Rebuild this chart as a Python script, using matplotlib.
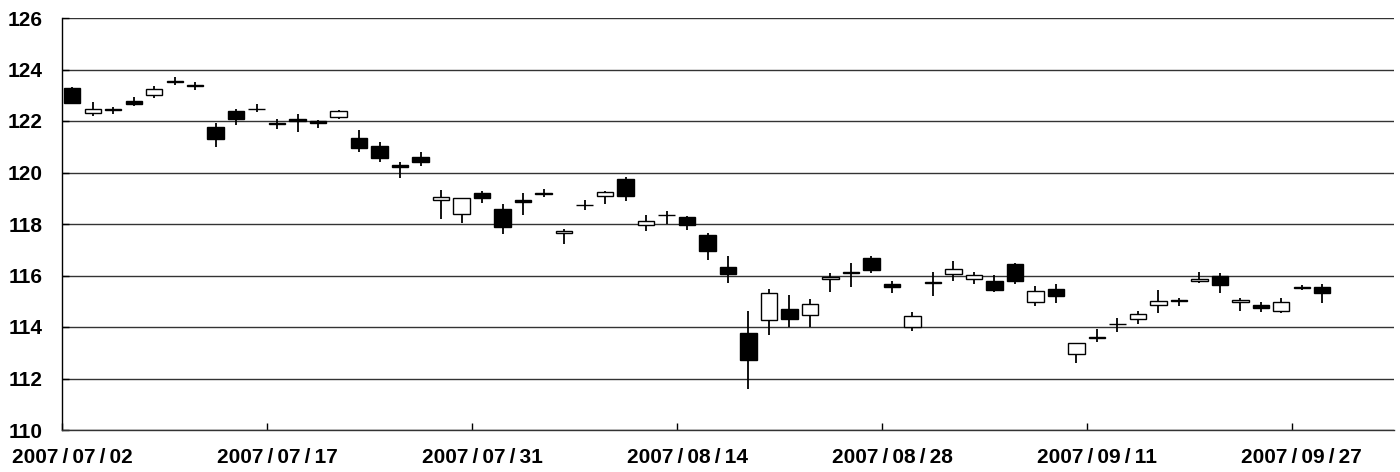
import matplotlib
matplotlib.use("Agg")
import matplotlib.pyplot as plt
import pandas as pd

# trading days (Japan), 2007-07-02 .. 2007-09-28
holidays = ["2007-07-16", "2007-09-17", "2007-09-24"]
dates = [d for d in pd.bdate_range("2007-07-02", "2007-09-28") if d.strftime("%Y-%m-%d") not in holidays]

opens = [123.27, 122.32, 122.48, 122.78, 123.02, 123.52, 123.40, 121.78, 122.39, 122.46,
         121.92, 122.09, 122.01, 122.14, 121.33, 121.03, 120.30, 120.59, 118.93, 118.38,
         119.22, 118.57, 118.92, 119.18, 117.64, 118.73, 119.09, 119.76, 117.98, 118.36,
         118.28, 117.57, 116.33, 113.78, 114.27, 114.70, 114.45, 115.87, 116.11, 116.67,
         115.67, 113.99, 115.71, 116.05, 115.88, 115.80, 116.45, 114.97, 115.48, 112.94,
         113.59, 114.11, 114.31, 114.85, 115.04, 115.77, 115.98, 114.98, 114.84, 114.64,
         115.52, 115.57]
highs = [123.33, 122.74, 122.56, 122.92, 123.36, 123.70, 123.51, 121.91, 122.45, 122.66,
         122.09, 122.26, 122.04, 122.43, 121.65, 121.17, 120.40, 120.78, 119.32, 119.02,
         119.29, 118.77, 119.19, 119.35, 117.79, 118.93, 119.29, 119.81, 118.35, 118.50,
         118.31, 117.66, 116.77, 114.61, 115.46, 115.25, 115.08, 116.09, 116.47, 116.77,
         115.80, 114.57, 116.12, 116.56, 116.12, 116.02, 116.50, 115.60, 115.67, 113.39,
         113.92, 114.34, 114.62, 115.44, 115.11, 116.12, 116.09, 115.14, 114.98, 115.14,
         115.63, 115.66]
lows = [122.65, 122.21, 122.26, 122.58, 122.91, 123.39, 123.20, 121.00, 121.84, 122.34,
        121.70, 121.58, 121.74, 122.07, 120.81, 120.42, 119.80, 120.26, 118.19, 118.05,
        118.80, 117.60, 118.35, 119.06, 117.21, 118.54, 118.77, 118.89, 117.73, 117.99,
        117.77, 116.60, 115.72, 111.58, 113.69, 114.01, 113.99, 115.37, 115.54, 116.11,
        115.33, 113.86, 115.22, 115.80, 115.67, 115.36, 115.66, 114.82, 114.94, 112.61,
        113.41, 113.79, 114.10, 114.53, 114.82, 115.70, 115.31, 114.62, 114.59, 114.53,
        115.44, 114.92]
closes = [122.69, 122.47, 122.43, 122.65, 123.23, 123.54, 123.36, 121.31, 122.08, 122.48,
          121.90, 121.99, 121.91, 122.40, 120.95, 120.55, 120.20, 120.41, 119.06, 119.00,
          119.02, 117.90, 118.85, 119.20, 117.74, 118.75, 119.23, 119.09, 118.12, 118.34,
          117.96, 116.96, 116.07, 112.72, 115.31, 114.31, 114.88, 115.94, 116.13, 116.22,
          115.55, 114.44, 115.73, 116.24, 116.03, 115.43, 115.80, 115.39, 115.22, 113.39,
          113.61, 114.13, 114.49, 115.00, 115.00, 115.88, 115.63, 115.06, 114.75, 114.99,
          115.54, 115.31]

n_slots = 65
label_every = 10
y_ticks = [110, 112, 114, 116, 118, 120, 122, 124, 126]

FONT = ["Liberation Sans", "DejaVu Sans"]
plt.rcParams["font.family"] = FONT

fig = plt.figure(figsize=(14, 4.72), dpi=100)
ax = fig.add_axes([62/1400, 1 - 430/472, (1394-62)/1400, (430-18)/472])

x = list(range(len(dates)))
ax.vlines(x, lows, highs, color="black", linewidth=1.3, zorder=2)
heights = [c - o for o, c in zip(opens, closes)]
colors = ["white" if c >= o else "black" for o, c in zip(opens, closes)]
ax.bar(x, heights, bottom=opens, width=0.8, color=colors, edgecolor="black",
       linewidth=1.0, zorder=3)

ax.set_xlim(-0.5, n_slots - 0.5)
ax.set_ylim(110, 126)
ax.set_yticks(y_ticks)
ax.set_yticklabels([str(v) for v in y_ticks], fontsize=15, fontweight="bold")
ax.yaxis.grid(True, color="#333333", linewidth=1.0)
ax.set_axisbelow(True)

# tick marks at category boundaries, labels at category centres
major = [i - 0.5 for i in range(0, n_slots, label_every)]
ax.set_xticks(major)
ax.set_xticklabels([""] * len(major))
minor = list(range(0, len(dates), label_every))
ax.set_xticks(minor, minor=True)
ax.set_xticklabels([dates[i].strftime("%Y\u2009/\u2009%m\u2009/\u2009%d") for i in minor],
                   minor=True, fontsize=15, fontweight="bold")
ax.tick_params(axis="x", which="major", direction="in", length=5, width=1, color="black")
ax.tick_params(axis="x", which="minor", length=0, pad=13)
ax.tick_params(axis="y", direction="in", length=5, width=1, pad=14)

for s in ["top", "right"]:
    ax.spines[s].set_visible(False)
ax.spines["left"].set_linewidth(1.0)
ax.spines["bottom"].set_linewidth(1.0)
ax.spines["left"].set_color("black")
ax.spines["bottom"].set_color("#333333")

fig.savefig("out.png", dpi=100, facecolor="white")
